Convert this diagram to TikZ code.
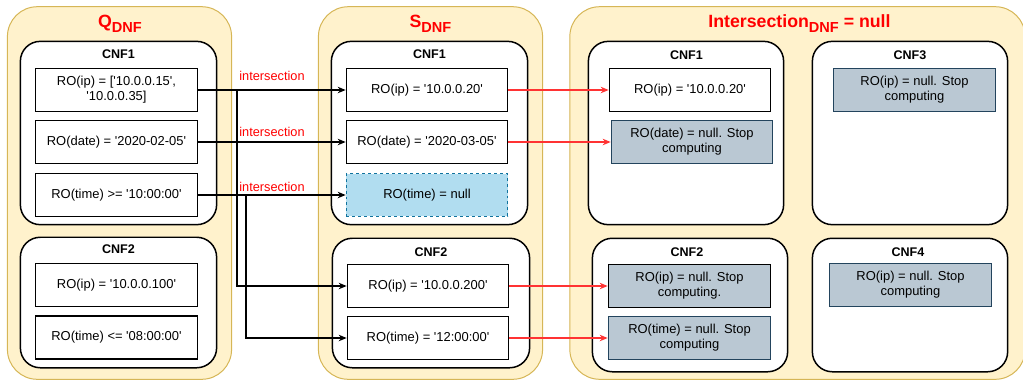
\documentclass[tikz,border=0pt]{standalone}
\usepackage{fontspec}
\setmainfont{Liberation Sans}[Ligatures=TeXOff]
\usepackage{tikz}
\usetikzlibrary{arrows.meta}

\definecolor{dnffill}{HTML}{FFF2CC}
\definecolor{dnfline}{HTML}{D6B656}
\definecolor{stopfill}{HTML}{BAC8D3}
\definecolor{stopline}{HTML}{23445D}
\definecolor{nullfill}{HTML}{B1DDF0}
\definecolor{nullline}{HTML}{10739E}
\definecolor{redtext}{HTML}{FF0000}
\definecolor{redline}{HTML}{FF3333}

\newcommand\dnfsub{\raisebox{-5pt}{\fontsize{14.6}{15}\selectfont DNF}}

\begin{document}
\begin{tikzpicture}[x=1bp,y=-1bp,>={Stealth[length=8pt,width=6.5pt]},line width=1.3pt,
  dnf node/.style={rectangle,rounded corners=30pt,fill=dnffill,draw=dnfline,line width=1pt,minimum height=374pt,inner sep=0pt},
  dnf title/.style={anchor=base,text=redtext,font=\fontsize{17.8}{20}\selectfont\bfseries},
  cnf node/.style={rectangle,rounded corners=20pt,fill=white,draw,line width=1.5pt,minimum width=197pt,inner sep=0pt},
  cnf title/.style={anchor=base,font=\fontsize{12.6}{15}\selectfont\bfseries},
  ro node/.style={rectangle,fill=white,draw,minimum width=163pt,minimum height=43pt,align=center,inner sep=2pt,font=\fontsize{13}{15}\selectfont},
  stop node/.style={ro node,fill=stopfill,draw=stopline},
  null node/.style={ro node,fill=nullfill,draw=nullline,dashed},
  inter label/.style={text=redtext,font=\fontsize{12.8}{15}\selectfont}]
  \useasboundingbox (0,0) rectangle (1023,380);
  \clip (0,0) rectangle (1023,380);

  % the three DNF containers
  \node[dnf node,minimum width=225pt] (qdnf) at (119.5,193) {};
  \node[dnf node,minimum width=225pt] (sdnf) at (430.5,193) {};
  \node[dnf node,minimum width=457pt] (idnf) at (797.5,193) {};
  \node[dnf title] (qt) at (120,27.5) {Q\dnfsub};
  \node[dnf title] (st) at (430.5,27.5) {S\dnfsub};
  \node[dnf title] (it) at (799.5,27.5) {Intersection\dnfsub{} = null};

  % Q
  \node[cnf node,minimum height=184pt] (qc1) at (118.5,133) {};
  \node[cnf title] at (118.5,58) {CNF1};
  \node[ro node] (qa) at (116.5,90) {RO(ip) = ['10.0.0.15',\\ '10.0.0.35]};
  \node[ro node] (qb) at (116.5,142) {RO(date) = '2020-02-05'};
  \node[ro node] (qc) at (116.5,195) {RO(time) >= '10:00:00'};
  \node[cnf node,minimum height=131pt] (qc2) at (118.5,302.5) {};
  \node[cnf title] at (118.5,253) {CNF2};
  \node[ro node] (qd) at (116.5,285) {RO(ip) = '10.0.0.100'};
  \node[ro node] (qe) at (116.5,337.5) {RO(time) <= '08:00:00'};

  % S
  \node[cnf node,minimum height=184pt] (sc1) at (429.5,133) {};
  \node[cnf title] at (429.5,58) {CNF1};
  \node[ro node,minimum width=162pt] (sa) at (427,90) {RO(ip) = '10.0.0.20'};
  \node[ro node,minimum width=162pt] (sb) at (427,142) {RO(date) = '2020-03-05'};
  \node[null node,minimum width=162pt] (sc) at (427,195) {RO(time) = null};
  \node[cnf node,minimum width=198pt,minimum height=130pt] (sc2) at (431,303) {};
  \node[cnf title] at (431,256) {CNF2};
  \node[ro node,minimum width=162pt] (sd) at (428,286) {RO(ip) = '10.0.0.200'};
  \node[ro node,minimum width=162pt] (se) at (428,338) {RO(time) = '12:00:00'};

  % Intersection
  \node[cnf node,minimum width=196pt,minimum height=184pt] (ic1) at (686,133) {};
  \node[cnf title] at (686.5,59) {CNF1};
  \node[ro node,minimum width=162pt] (ia) at (690,90) {RO(ip) = '10.0.0.20'};
  \node[stop node,minimum width=162pt] (ib) at (692,142) {RO(date) = null. Stop\\computing};
  \node[cnf node,minimum width=196pt,minimum height=184pt] (ic3) at (910,133) {};
  \node[cnf title] at (910,59) {CNF3};
  \node[stop node] (ic) at (914.5,90) {RO(ip) = null. Stop\\computing};
  \node[cnf node,minimum width=196pt,minimum height=134pt] (ic2) at (690,305) {};
  \node[cnf title] at (687,256) {CNF2};
  \node[stop node,draw=black] (id) at (689.5,286) {RO(ip) = null. Stop\\computing.};
  \node[stop node] (ie) at (689.5,338) {RO(time) = null. Stop\\computing};
  \node[cnf node,minimum width=196pt,minimum height=134pt] (ic4) at (910,305) {};
  \node[cnf title] at (908,256) {CNF4};
  \node[stop node] (ig) at (910.5,285) {RO(ip) = null. Stop\\computing};

  % intersections Q -> S
  \coordinate (bend1) at (237,0);
  \coordinate (bend2) at (246,0);
  \path[->]
    (qa) edge node[inter label,above=5pt] {intersection} (sa)
    (qb) edge node[inter label,above=1.5pt] {intersection} (sb)
    (qc) edge node[inter label,above=-1pt] {intersection} (sc);
  \draw[->] (qa.east) -- (qa.east -| bend1) |- (sd.west);
  \draw[->] (qc.east) -- (qc.east -| bend2) |- (se.west);

  % S -> Intersection
  \draw[->,redline,line width=1.5pt] (sa) -- (ia);
  \draw[->,redline,line width=1.5pt] (sb) -- (ib);
  \draw[->,redline,line width=1.5pt] (sd) -- (id);
  \draw[->,redline,line width=1.5pt] (se) -- (ie);
\end{tikzpicture}
\end{document}
